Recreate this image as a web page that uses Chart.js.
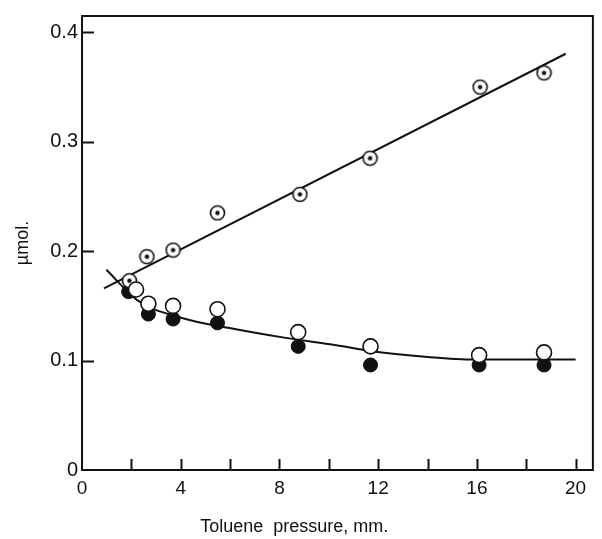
<!DOCTYPE html>
<html>
<head>
<meta charset="utf-8">
<script src="https://cdn.jsdelivr.net/npm/chart.js@4/dist/chart.umd.min.js"></script>
<style>
    html, body { margin: 0; padding: 0; background: #fff; }
    #wrap { width: 602px; height: 539px; }
</style>
</head>
<body>
<div id="wrap"><canvas id="chart" width="602" height="539"></canvas></div>
<script>
// 讀圖所得的數據 (toluene pressure in mm, amount in µmol)
const dottedX = [1.92, 2.63, 3.69, 5.49, 8.83, 11.67, 16.13, 18.72];
const dottedY = [0.173, 0.195, 0.201, 0.235, 0.252, 0.285, 0.350, 0.363];

const openX = [2.19, 2.69, 3.69, 5.49, 8.76, 11.69, 16.09, 18.72];
const openY = [0.165, 0.152, 0.150, 0.147, 0.126, 0.113, 0.105, 0.1075];

const filledX = [1.89, 2.69, 3.69, 5.49, 8.76, 11.69, 16.09, 18.72];
const filledY = [0.163, 0.1425, 0.138, 0.1345, 0.113, 0.096, 0.096, 0.096];

// 擬合線
const upperLineX = [0.89, 19.6];
const upperLineY = [0.166, 0.3805];
const lowerCurveX = [0.99, 2.25, 4.05, 5.92, 8.19, 10.3, 11.9, 13.9, 15.9, 20.0];
const lowerCurveY = [0.183, 0.155, 0.139, 0.130, 0.121, 0.114, 0.108, 0.1035, 0.101, 0.101];

// 刻度
const xTicks = [2, 4, 6, 8, 10, 12, 14, 16, 18, 20];
const yTicks = [0.1, 0.2, 0.3, 0.4];
const xTitle = 'Toluene  pressure, mm.';
const yTitle = 'µmol.';

const toPoints = (xs, ys) => xs.map((x, i) => ({ x: x, y: ys[i] }));

// 帶中心點的圓圈標記
function dottedCircle() {
    const c = document.createElement('canvas');
    c.width = 17; c.height = 17;
    const g = c.getContext('2d');
    g.fillStyle = '#fff';
    g.strokeStyle = '#111';
    g.lineWidth = 1.6;
    g.beginPath(); g.arc(8.5, 8.5, 7, 0, Math.PI * 2); g.fill(); g.stroke();
    g.fillStyle = '#111';
    g.beginPath(); g.arc(8.5, 8.5, 2.2, 0, Math.PI * 2); g.fill();
    return c;
}

const labelFont = { family: '"Liberation Sans", Arial, sans-serif', size: 19 };

// 畫外框、向內的刻度、x 軸標題
const framePlugin = {
    id: 'frame',
    afterDraw(chart) {
        const { ctx, chartArea: a, scales: { x, y } } = chart;
        ctx.save();
        ctx.strokeStyle = '#111';
        ctx.lineWidth = 2;
        ctx.strokeRect(a.left, a.top, a.right - a.left, a.bottom - a.top);
        ctx.beginPath();
        xTicks.forEach(v => {
            const px = Math.round(x.getPixelForValue(v)) + 0.5;
            ctx.moveTo(px, a.bottom);
            ctx.lineTo(px, a.bottom - 11);
        });
        yTicks.forEach(v => {
            const py = Math.round(y.getPixelForValue(v)) + 0.5;
            ctx.moveTo(a.left, py);
            ctx.lineTo(a.left + 12, py);
        });
        ctx.stroke();
        ctx.fillStyle = '#111';
        ctx.font = '18px "Liberation Sans", Arial, sans-serif';
        ctx.textAlign = 'center';
        ctx.textBaseline = 'middle';
        ctx.fillText(xTitle, x.getPixelForValue(8.6), chart.height - 12);
        ctx.restore();
    }
};

new Chart(document.getElementById('chart'), {
    type: 'scatter',
    data: {
        datasets: [
            {
                label: 'open',
                data: toPoints(openX, openY),
                pointStyle: 'circle',
                pointRadius: 7.5,
                pointBackgroundColor: '#fff',
                pointBorderColor: '#111',
                pointBorderWidth: 1.6,
                order: 1
            },
            {
                label: 'filled',
                data: toPoints(filledX, filledY),
                pointStyle: 'circle',
                pointRadius: 7,
                pointBackgroundColor: '#111',
                pointBorderColor: '#111',
                pointBorderWidth: 1,
                order: 2
            },
            {
                label: 'dotted',
                data: toPoints(dottedX, dottedY),
                pointStyle: dottedCircle(),
                order: 1
            },
            {
                label: 'upper fit',
                data: toPoints(upperLineX, upperLineY),
                showLine: true,
                borderColor: '#111',
                borderWidth: 2,
                pointRadius: 0,
                order: 3
            },
            {
                label: 'lower fit',
                data: toPoints(lowerCurveX, lowerCurveY),
                showLine: true,
                borderColor: '#111',
                borderWidth: 2,
                pointRadius: 0,
                cubicInterpolationMode: 'monotone',
                order: 3
            }
        ]
    },
    options: {
        responsive: false,
        animation: false,
        events: [],
        layout: { padding: { top: 15, right: 3, left: 0, bottom: 0 } },
        plugins: {
            legend: { display: false },
            tooltip: { enabled: false }
        },
        scales: {
            x: {
                type: 'linear',
                min: 0,
                max: 20.7,
                grid: { display: false, drawTicks: false },
                border: { display: false },
                ticks: {
                    stepSize: 4,
                    includeBounds: false,
                    padding: 7,
                    color: '#111',
                    font: labelFont,
                    callback: v => (v % 4 === 0 ? String(v) : '')
                },
                afterFit: s => { s.height = 69; }
            },
            y: {
                type: 'linear',
                min: 0,
                max: 0.415,
                grid: { display: false, drawTicks: false },
                border: { display: false },
                ticks: {
                    stepSize: 0.1,
                    includeBounds: false,
                    padding: 4,
                    color: '#111',
                    font: { family: '"Liberation Sans", Arial, sans-serif', size: 20 },
                    callback: v => (v === 0 ? '0' : v.toFixed(1))
                },
                title: {
                    display: true,
                    text: yTitle,
                    color: '#111',
                    font: { family: '"Liberation Sans", Arial, sans-serif', size: 18 },
                    padding: { top: 12, bottom: 0 }
                },
                afterFit: s => { s.width = 82; }
            }
        }
    },
    plugins: [framePlugin]
});
</script>
</body>
</html>
